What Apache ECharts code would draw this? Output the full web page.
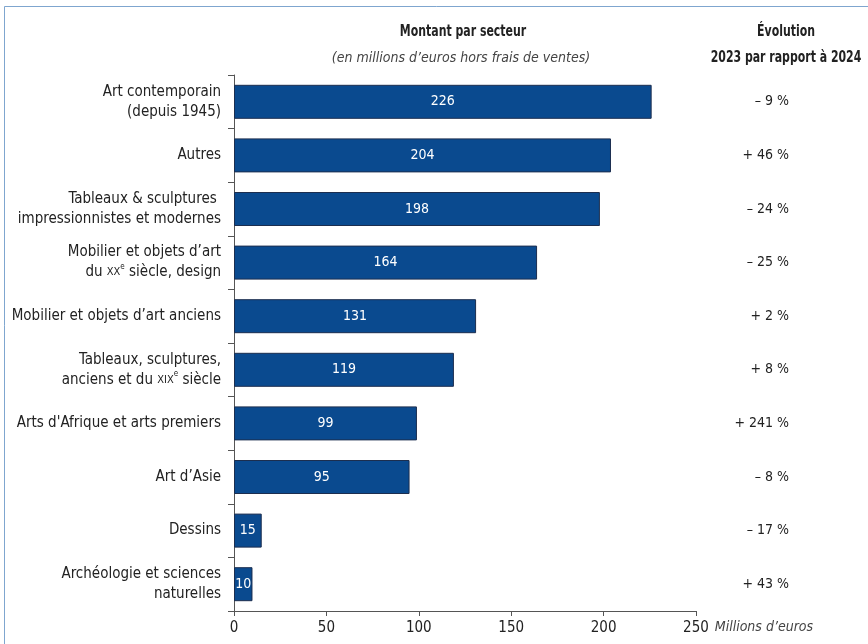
<!DOCTYPE html>
<html><head><meta charset="utf-8">
<script src="https://cdn.jsdelivr.net/npm/echarts@6/dist/echarts.min.js"></script>
<style>html,body{margin:0;padding:0;background:#fff}#c{width:868px;height:644px}</style>
</head><body><div id="c"></div>
<script>
const categories = [
  "Art contemporain\n(depuis 1945)",
  "Autres",
  "Tableaux & sculptures \nimpressionnistes et modernes",
  "Mobilier et objets d’art\ndu XXe siècle, design",
  "Mobilier et objets d’art anciens",
  "Tableaux, sculptures,\nanciens et du XIXe siècle",
  "Arts d'Afrique et arts premiers",
  "Art d’Asie",
  "Dessins",
  "Archéologie et sciences\nnaturelles"
];
const values = [226, 204, 198, 164, 131, 119, 99, 95, 15, 10];
const evolution = ["– 9 %", "+ 46 %", "– 24 %", "– 25 %", "+ 2 %", "+ 8 %", "+ 241 %", "– 8 %", "– 17 %", "+ 43 %"];
const xTicks = [0, 50, 100, 150, 200, 250];

const FONT = '"Liberation Sans Narrow","DejaVu Sans Condensed","Roboto Condensed",sans-serif';
const chart = echarts.init(document.getElementById('c'));
function richLabel(s){
  return s.split('\n').map(line => {
    const m = line.match(/^(.*?)\b(XIX|XX)e(.*)$/);
    if (m) return '{n|' + m[1] + '}{sc|' + m[2] + '}{sup|e}{n|' + m[3] + '}';
    return '{n|' + line + '}';
  }).join('\n');
}
chart.setOption({
  animation: false,
  textStyle: {fontFamily: FONT},
  graphic: [
    {type: 'rect', shape: {x: 4.5, y: 6.5, width: 900, height: 700}, style: {fill: 'none', stroke: '#7fa6cf', lineWidth: 1}},
    {type: 'text', x: 463, y: 32, scaleX: 0.76, style: {text: 'Montant par secteur', font: 'bold 16px ' + FONT, fill: '#222', align: 'center', verticalAlign: 'middle'}},
    {type: 'text', x: 461, y: 58, style: {text: '(en millions d’euros hors frais de ventes)', font: 'italic 14px ' + FONT, fill: '#444', align: 'center', verticalAlign: 'middle'}},
    {type: 'text', x: 786, y: 32, scaleX: 0.76, style: {text: 'Évolution', font: 'bold 16px ' + FONT, fill: '#222', align: 'center', verticalAlign: 'middle'}},
    {type: 'text', x: 786, y: 58, scaleX: 0.76, style: {text: '2023 par rapport à 2024', font: 'bold 16px ' + FONT, fill: '#222', align: 'center', verticalAlign: 'middle'}}
  ],
  grid: {left: 234, right: 172, top: 75, bottom: 33, containLabel: false},
  xAxis: {
    type: 'value', min: 0, max: 250, interval: 50,
    name: 'Millions d’euros', nameLocation: 'end', nameGap: 10,
    nameTextStyle: {fontStyle: 'italic', fontSize: 14, color: '#444', verticalAlign: 'top', padding: [9, 0, 0, 0]},
    axisLine: {show: true, lineStyle: {color: '#555', width: 1}},
    axisTick: {show: true, inside: false, length: 5, lineStyle: {color: '#555'}},
    axisLabel: {fontSize: 15, color: '#222', margin: 10, formatter: v => xTicks.includes(v) ? String(v) : ''},
    splitLine: {show: false}
  },
  yAxis: [{
    type: 'category', data: categories, inverse: true,
    axisLine: {show: true, lineStyle: {color: '#555', width: 1}},
    axisTick: {show: true, length: 6, lineStyle: {color: '#555'}},
    axisLabel: {
      margin: 13, color: '#222', fontSize: 15, lineHeight: 20,
      formatter: v => richLabel(v),
      rich: {
        n: {fontSize: 15, color: '#222', lineHeight: 20, fontFamily: FONT},
        sc: {fontSize: 11, color: '#222', lineHeight: 20, fontFamily: FONT},
        sup: {fontSize: 8, color: '#222', lineHeight: 20, verticalAlign: 'top', padding: [0, 0, 6, 0], fontFamily: FONT}
      }
    }
  }, {
    type: 'category', data: evolution, inverse: true, position: 'right',
    axisLine: {show: false}, axisTick: {show: false},
    axisLabel: {margin: 93, align: 'right', fontSize: 14, color: '#222'}
  }],
  series: [{
    type: 'bar', data: values, yAxisIndex: 0, barWidth: 34,
    itemStyle: {color: '#0a4a8f', borderColor: '#1c2e4f', borderWidth: 1},
    label: {show: true, position: 'inside', color: '#fff', fontSize: 14}
  }]
});
</script></body></html>
